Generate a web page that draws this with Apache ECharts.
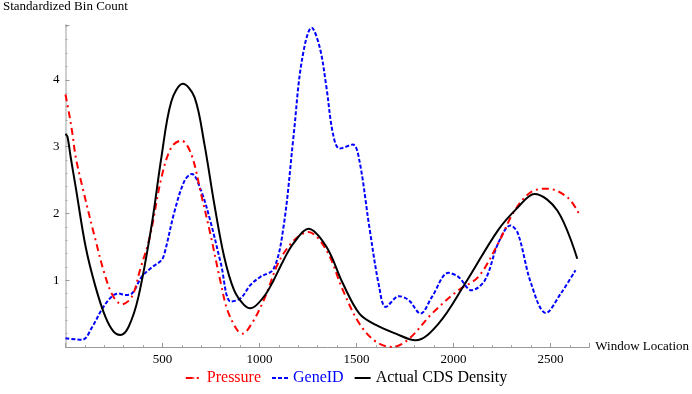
<!DOCTYPE html>
<html>
<head>
<meta charset="utf-8">
<script src="https://cdn.jsdelivr.net/npm/echarts@6/dist/echarts.min.js"></script>
<style>
  html, body { margin: 0; padding: 0; background: #fff; }
  #chartmain { width: 692px; height: 394px; }
</style>
</head>
<body>
<div id="chartmain"></div>
<script>
// 数据
var pressureX = [0, 19, 36, 53, 87, 155, 206, 248, 291, 342, 384, 435, 495, 546, 597, 648, 699, 750, 801, 835, 886, 912, 960, 1022, 1124, 1252, 1345, 1430, 1515, 1600, 1685, 1770, 1889, 2025, 2128, 2230, 2315, 2400, 2485, 2587, 2646];
var pressureY = [3.78, 3.49, 3.19, 2.84, 2.40, 1.60, 1.05, 0.75, 0.64, 0.75, 1.15, 1.65, 2.54, 2.99, 3.09, 2.89, 2.29, 1.65, 0.95, 0.55, 0.25, 0.20, 0.35, 0.70, 1.40, 1.72, 1.45, 0.85, 0.35, 0.08, 0.0, 0.12, 0.50, 0.85, 1.05, 1.55, 2.04, 2.32, 2.37, 2.24, 2.0];

var geneX = [0, 87, 138, 189, 240, 274, 308, 342, 393, 444, 495, 512, 563, 614, 651, 699, 750, 801, 852, 903, 954, 1005, 1073, 1124, 1175, 1218, 1269, 1311, 1345, 1379, 1413, 1481, 1515, 1566, 1617, 1651, 1719, 1770, 1830, 1889, 1974, 2025, 2093, 2162, 2230, 2294, 2332, 2400, 2476, 2553, 2629];
var geneY = [0.13, 0.11, 0.30, 0.57, 0.76, 0.80, 0.78, 0.80, 1.05, 1.19, 1.30, 1.42, 2.04, 2.49, 2.59, 2.34, 1.85, 1.25, 0.68, 0.73, 0.93, 1.05, 1.17, 1.80, 3.14, 4.28, 4.78, 4.48, 3.89, 3.19, 2.97, 3.03, 2.79, 1.80, 0.90, 0.60, 0.76, 0.70, 0.50, 0.75, 1.11, 1.05, 0.85, 1.00, 1.55, 1.82, 1.70, 0.95, 0.51, 0.80, 1.15];

var cdsX = [0, 10, 27, 53, 104, 155, 206, 248, 282, 325, 376, 444, 495, 546, 605, 665, 716, 767, 818, 869, 920, 954, 1022, 1073, 1124, 1175, 1252, 1345, 1430, 1515, 1600, 1702, 1804, 1923, 2060, 2230, 2332, 2417, 2536, 2638];
var cdsY = [3.19, 3.15, 2.84, 2.39, 1.50, 0.90, 0.45, 0.23, 0.18, 0.30, 0.75, 1.82, 2.85, 3.68, 3.94, 3.74, 3.04, 2.14, 1.35, 0.85, 0.63, 0.58, 0.75, 1.00, 1.30, 1.55, 1.77, 1.50, 0.95, 0.50, 0.33, 0.20, 0.10, 0.35, 0.95, 1.75, 2.09, 2.29, 2.04, 1.32];

var seriesNames = ['Pressure', 'GeneID', 'Actual CDS Density'];
var seriesColors = ['#ff0000', '#0000ff', '#000000'];

function pairs(xs, ys) {
    var out = [];
    for (var i = 0; i < xs.length; i++) {
        out.push([xs[i], ys[i]]);
    }
    return out;
}

var serif = '"Liberation Serif", "DejaVu Serif", serif';

option = {
    animation: false,
    grid: {
        left: 63,
        right: 100,
        top: 22,
        bottom: 47
    },
    legend: {
        left: 'center',
        bottom: 3,
        itemWidth: 16,
        itemHeight: 2,
        itemGap: 10,
        textStyle: {
            fontFamily: serif,
            fontSize: 16
        },
        data: [
            {name: seriesNames[0], textStyle: {color: seriesColors[0]}},
            {name: seriesNames[1], textStyle: {color: seriesColors[1]}},
            {name: seriesNames[2], textStyle: {color: seriesColors[2]}}
        ]
    },
    xAxis: {
        type: 'value',
        min: 0,
        max: 2700,
        interval: 500,
        name: 'Window Location',
        nameLocation: 'end',
        nameGap: 6,
        nameTextStyle: {
            fontFamily: serif,
            fontSize: 13,
            color: '#000',
            verticalAlign: 'middle'
        },
        axisLine: {
            show: true,
            onZero: false,
            lineStyle: {color: '#999', width: 1}
        },
        axisTick: {
            show: true,
            length: 4,
            inside: true,
            lineStyle: {color: '#999'}
        },
        minorTick: {
            show: true,
            splitNumber: 5,
            length: 2,
            lineStyle: {color: '#aaa'}
        },
        axisLabel: {
            fontFamily: serif,
            fontSize: 13,
            color: '#000',
            margin: 6,
            formatter: function (v) { return (v === 0 || v > 2600) ? '' : v; }
        },
        splitLine: {show: false}
    },
    yAxis: {
        type: 'value',
        min: 0,
        max: 4.82,
        interval: 1,
        name: 'Standardized Bin Count',
        nameLocation: 'end',
        nameGap: 12,
        nameTextStyle: {
            fontFamily: serif,
            fontSize: 13,
            color: '#000'
        },
        axisLine: {
            show: true,
            lineStyle: {color: '#cfcfcf', width: 2}
        },
        axisTick: {
            show: true,
            length: 4,
            inside: true,
            lineStyle: {color: '#999'}
        },
        minorTick: {
            show: true,
            splitNumber: 5,
            length: 2,
            lineStyle: {color: '#aaa'}
        },
        axisLabel: {
            fontFamily: serif,
            fontSize: 13,
            color: '#000',
            margin: 6,
            formatter: function (v) { return (v === 0 || v > 4.5) ? '' : v; }
        },
        splitLine: {show: false}
    },
    series: [
        {
            name: seriesNames[0],
            type: 'line',
            smooth: 0.35,
            symbol: 'none',
            color: seriesColors[0],
            lineStyle: {color: seriesColors[0], width: 2, type: [7, 4, 2, 4]},
            data: pairs(pressureX, pressureY),
            z: 3
        },
        {
            name: seriesNames[1],
            type: 'line',
            smooth: 0.35,
            symbol: 'none',
            color: seriesColors[1],
            lineStyle: {color: seriesColors[1], width: 2, type: [4, 2]},
            data: pairs(geneX, geneY),
            z: 2
        },
        {
            name: seriesNames[2],
            type: 'line',
            smooth: 0.35,
            symbol: 'none',
            color: seriesColors[2],
            lineStyle: {color: seriesColors[2], width: 2},
            data: pairs(cdsX, cdsY),
            z: 4
        }
    ]
};

//获取dom容器
var myChart = echarts.init(document.getElementById('chartmain'));
myChart.setOption(option);
</script>
</body>
</html>
